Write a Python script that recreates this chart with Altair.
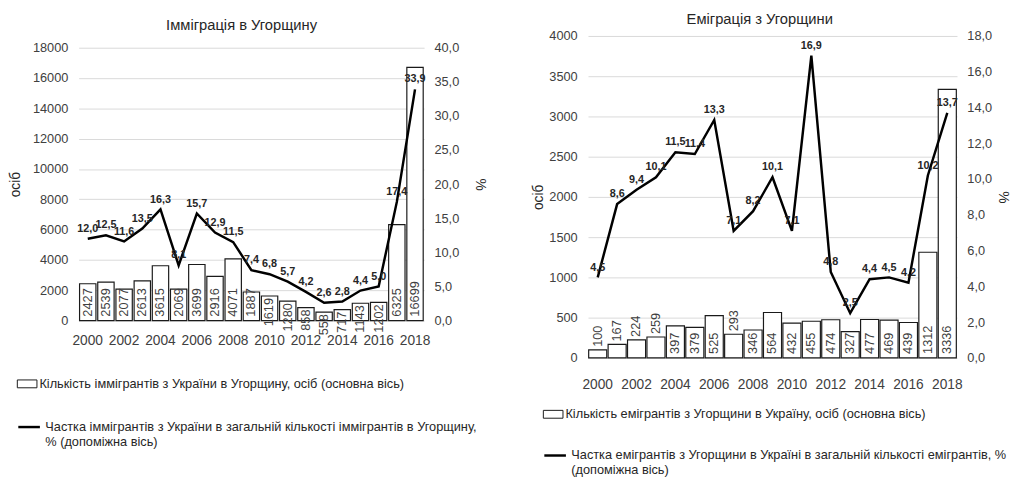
import altair as alt
import pandas as pd

years = [str(y) for y in range(2000, 2019)]
tick_years = [str(y) for y in range(2000, 2019, 2)]

imm_title = "Імміграція в Угорщину"
imm_count = [2427, 2539, 2077, 2613, 3615, 2069, 3699, 2916, 4071, 1887,
             1619, 1280, 858, 558, 717, 1143, 1202, 6325, 16699]
imm_share = [12.0, 12.5, 11.6, 13.5, 16.3, 8.1, 15.7, 12.9, 11.5, 7.4,
             6.8, 5.7, 4.2, 2.6, 2.8, 4.4, 5.0, 17.4, 33.9]
imm_bar_name = "Кількість іммігрантів з України в Угорщину, осіб (основна вісь)"
imm_line_name = ["Частка іммігрантів з України в загальній кількості іммігрантів в Угорщину,",
                 "% (допоміжна вісь)"]

emi_title = "Еміграція з Угорщини"
emi_count = [100, 167, 224, 259, 397, 379, 525, 293, 346, 564,
             432, 455, 474, 327, 477, 469, 439, 1312, 3336]
emi_share = [4.5, 8.6, 9.4, 10.1, 11.5, 11.4, 13.3, 7.1, 8.2, 10.1,
             7.1, 16.9, 4.8, 2.5, 4.4, 4.5, 4.2, 10.2, 13.7]
emi_bar_name = "Кількість емігрантів з Угорщини в Україну, осіб (основна вісь)"
emi_line_name = ["Частка  емігрантів з Угорщини в Україні в загальній кількості емігрантів, %",
                 "(допоміжна вісь)"]

FONT = "Liberation Sans, Arial, sans-serif"
TEXT = "#262626"
LABEL = "#404040"
COMMA = "replace(format(datum.value, '.1f'), '.', ',')"


def panel(title, counts, shares, bar_name, line_name, cmax, cstep, smax, sstep,
          w, h, top_gap, pad, small_thr, small_down, title_dx, x_label_pad,
          ytitle_pad_l, ytitle_pad_r, lx, ly1, ly2):
    df = pd.DataFrame({
        "year": years,
        "count": counts,
        "share": shares,
        "bar_series": bar_name,
        "line_series": "|".join(line_name),
    })
    base = alt.Chart(df)
    x = alt.X("year:O", title=None,
              scale=alt.Scale(paddingInner=pad, paddingOuter=pad / 2),
              axis=alt.Axis(values=tick_years, labelAngle=0, ticks=False, domain=False,
                            labelFont=FONT, labelFontSize=14, labelColor=LABEL,
                            labelPadding=x_label_pad))
    cscale = alt.Scale(domain=[0, cmax], nice=False, range=[h, top_gap])
    sscale = alt.Scale(domain=[0, smax], nice=False, range=[h, top_gap])
    count_axis = alt.Axis(values=list(range(0, cmax + 1, cstep)), format="d", grid=True,
                          gridColor="#d9d9d9", ticks=False, domain=False,
                          labelFont=FONT, labelFontSize=13, labelColor=LABEL,
                          labelPadding=11, titleFont=FONT, titleFontSize=14,
                          titleFontWeight="normal", titleColor=TEXT,
                          titlePadding=ytitle_pad_l)
    share_axis = alt.Axis(orient="right", values=list(range(0, smax + 1, sstep)),
                          labelExpr=COMMA, grid=False, ticks=False, domain=False,
                          labelFont=FONT, labelFontSize=13, labelColor=LABEL,
                          labelPadding=10, titleFont=FONT, titleFontSize=14,
                          titleFontWeight="normal", titleColor=TEXT, titleAngle=90,
                          titlePadding=ytitle_pad_r)

    def yc(field):
        return alt.Y(field, scale=cscale, title="осіб", axis=count_axis)

    def ys(field):
        return alt.Y(field, scale=sscale, title="%", axis=share_axis)

    bars = base.mark_bar(stroke="#1a1a1a", strokeWidth=1.2).encode(
        x=x,
        y=yc("count:Q"),
        fill=alt.Fill("bar_series:N", scale=alt.Scale(range=["white"]),
                      legend=alt.Legend(title=None, orient="none", legendX=lx, legendY=ly1,
                                        symbolType="M-1,-0.4H1V0.4H-1Z", symbolSize=400,
                                        symbolStrokeColor="#1a1a1a", symbolStrokeWidth=1,
                                        labelFont=FONT, labelFontSize=13, labelColor=TEXT,
                                        labelLimit=800, labelOffset=2)),
    )
    inside = base.transform_filter(alt.datum.count >= small_thr).transform_calculate(
        count_base="0").mark_text(angle=270, align="left", baseline="middle", dx=4,
                                  font=FONT, fontSize=13, color=LABEL).encode(
        x=x,
        y=yc("count_base:Q"),
        text=alt.Text("count:Q", format="d"),
    )
    small = base.transform_filter(alt.datum.count < small_thr).mark_text(
        angle=270, align="right" if small_down else "left", baseline="middle",
        dx=-2 if small_down else 3, font=FONT, fontSize=13, color=LABEL).encode(
        x=x,
        y=yc("count:Q"),
        text=alt.Text("count:Q", format="d"),
    )
    line = base.mark_line(strokeWidth=2.5).encode(
        x=x,
        y=ys("share:Q"),
        stroke=alt.Stroke("line_series:N", scale=alt.Scale(range=["black"]),
                          legend=alt.Legend(title=None, orient="none", legendX=lx, legendY=ly2,
                                            symbolType="stroke", symbolSize=484,
                                            symbolStrokeWidth=2.5,
                                            labelExpr="split(datum.label, '|')",
                                            labelFont=FONT, labelFontSize=13, labelColor=TEXT,
                                            labelLimit=800, labelOffset=4)),
    )
    line_labels = base.transform_calculate(
        slabel="replace(format(datum.share, '.1f'), '.', ',')").mark_text(
        font=FONT, fontSize=11, fontWeight="bold", color=TEXT, baseline="bottom", dy=-5
    ).encode(
        x=x,
        y=ys("share:Q"),
        text="slabel:N",
    )
    return alt.layer(
        alt.layer(bars, inside, small),
        alt.layer(line, line_labels),
    ).resolve_scale(y="independent").properties(
        width=w, height=h,
        title=alt.TitleParams(title, font=FONT, fontSize=15, fontWeight="normal",
                              color=TEXT, offset=9, anchor="middle",
                              frame="group", dx=title_dx, dy=6),
    )


left = panel(imm_title, imm_count, imm_share, imm_bar_name, imm_line_name,
             18000, 2000, 40, 5, 352, 290, 12, 0.1, 1700, True, -10, 13, 10, 14,
             -63, 344, 386)
right = panel(emi_title, emi_count, emi_share, emi_bar_name, emi_line_name,
              4000, 500, 18, 2, 376, 328, 0, 0.07, 320, False, -13, 20, 3, 4,
              -46, 375, 415)

chart = alt.hconcat(left, right, spacing=46).resolve_scale(
    fill="independent", stroke="independent", x="independent", y="independent"
).resolve_legend(fill="independent", stroke="independent").configure_view(
    stroke=None
).properties(padding={"left": 0, "top": 0, "right": 0, "bottom": 0})

chart.save("out.html", embed_options={"renderer": "svg", "actions": False})
